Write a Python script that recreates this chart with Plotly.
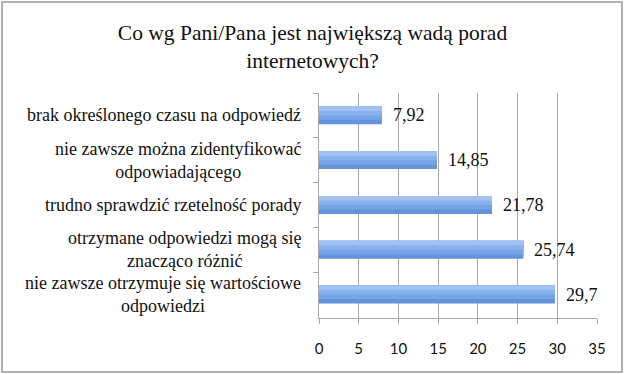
import plotly.graph_objects as go

categories = [
    "brak określonego czasu na odpowiedź",
    "nie zawsze można zidentyfikować<br>odpowiadającego",
    "trudno sprawdzić rzetelność porady",
    "otrzymane odpowiedzi mogą się<br>znacząco różnić",
    "nie zawsze otrzymuje się wartościowe<br>odpowiedzi",
]
values = [7.92, 14.85, 21.78, 25.74, 29.7]
value_labels = ["7,92", "14,85", "21,78", "25,74", "29,7"]
x_ticks = [0, 5, 10, 15, 20, 25, 30, 35]

title_text = "Co wg Pani/Pana jest największą wadą porad<br>internetowych?"

SERIF = "Liberation Serif"

# overlapping layers (bottom colour first) to mimic the gradient fill of the bars
layer_colors = ["#6493dc", "#76a4e8", "#88b2ee", "#a2c3f2"]
BAR_W = 0.4
n = len(layer_colors)

fig = go.Figure()
for i, col in enumerate(layer_colors):
    w = BAR_W * (n - i) / n
    fig.add_trace(go.Bar(
        x=values, y=categories, orientation="h",
        width=w, offset=-BAR_W / 2,
        marker=dict(color=col, line=dict(width=0)),
        hoverinfo="skip",
    ))

annotations = []
for c in categories:
    annotations.append(dict(
        x=0, y=c, xref="x", yref="y", text=c, showarrow=False,
        xanchor="right", yanchor="middle", align="center", xshift=-16,
        font=dict(family=SERIF, size=18, color="#111111"),
    ))
for c, v, t in zip(categories, values, value_labels):
    annotations.append(dict(
        x=v, y=c, xref="x", yref="y", text=t, showarrow=False,
        xanchor="left", yanchor="middle", xshift=9,
        font=dict(family=SERIF, size=18, color="#111111"),
    ))

fig.update_layout(
    width=625, height=374,
    margin=dict(l=319, r=28, t=93, b=56),
    paper_bgcolor="white", plot_bgcolor="white",
    showlegend=False, barmode="overlay",
    title=dict(text=title_text, x=0.5, xref="container", xanchor="center",
               y=0.893, yref="container", yanchor="top",
               font=dict(family=SERIF, size=21.5, color="#111111")),
    xaxis=dict(range=[0, 35], tickvals=x_ticks, ticktext=[str(t) for t in x_ticks],
               showgrid=True, gridcolor="#a8a8a8", gridwidth=1,
               showline=True, linecolor="#a8a8a8", linewidth=1,
               ticks="outside", ticklen=5, tickcolor="#a8a8a8",
               ticklabelstandoff=12,
               zeroline=False, fixedrange=True,
               tickfont=dict(family="Lato", size=15, color="#111111")),
    yaxis=dict(autorange="reversed", showticklabels=False,
               showline=True, linecolor="#a8a8a8", linewidth=1,
               ticks="outside", ticklen=5, tickcolor="#a8a8a8",
               tickson="boundaries", showgrid=False, zeroline=False,
               fixedrange=True),
    annotations=annotations,
    shapes=[dict(type="rect", xref="paper", yref="paper",
                 x0=-1.1403, x1=1.0899, y0=-0.24, y1=1.4044,
                 line=dict(color="#b0b0b0", width=2), layer="below")],
)

fig.write_html("out.html", config={"displayModeBar": False},
               post_script="document.body.style.margin='0';")
